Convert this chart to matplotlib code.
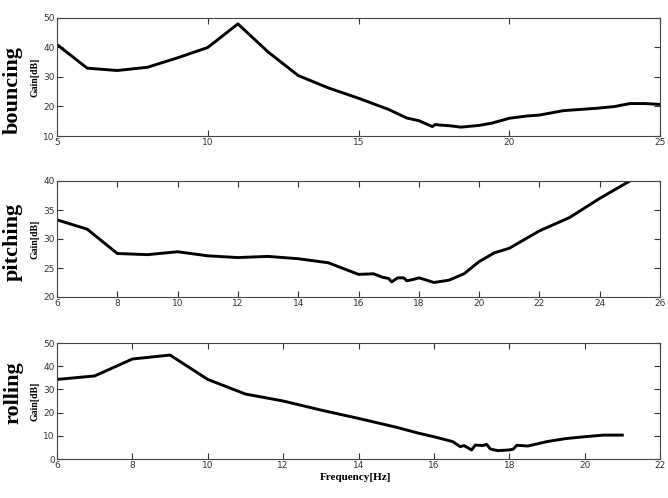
import matplotlib.pyplot as plt

# bouncing
bounce_f = [5, 6, 7, 8, 9, 10, 11, 12, 13, 14, 15, 16, 16.6, 17.0, 17.45, 17.55, 17.7, 18.0, 18.4,
            19.0, 19.4, 20.0, 20.6, 21.0, 21.8, 22.9, 23.5, 24.0, 24.5, 25]
bounce_g = [41, 33, 32.2, 33.3, 36.5, 40, 48, 38.5, 30.5, 26.3, 22.8, 19.0, 16.1, 15.2, 13.2, 13.9, 13.7, 13.5, 13.0,
            13.6, 14.3, 16.0, 16.8, 17.1, 18.6, 19.4, 20.0, 21.0, 21.0, 20.7]

# pitching
pitch_f = [6, 7, 8, 9, 10, 11, 12, 13, 14, 15, 15.5, 16, 16.5, 16.8, 17.0, 17.1, 17.3, 17.5, 17.6, 17.8,
           18.0, 18.2, 18.5, 19.0, 19.5, 20.0, 20.5, 21.0, 22.0, 23.0, 24.0, 25.0]
pitch_g = [33.3, 31.7, 27.5, 27.3, 27.8, 27.1, 26.8, 27.0, 26.6, 25.9, 24.9, 23.9, 24.0, 23.4, 23.2, 22.6, 23.3, 23.3, 22.8, 23.0,
           23.3, 23.0, 22.5, 22.9, 24.0, 26.1, 27.6, 28.4, 31.4, 33.7, 37.0, 40.0]

# rolling
roll_f = [6, 7, 8, 9, 10, 11, 12, 13, 14, 15, 15.6, 16, 16.5, 16.7, 16.8, 17.0, 17.1, 17.3, 17.4, 17.5,
          17.7, 18.0, 18.1, 18.2, 18.5, 19.0, 19.5, 20.0, 20.5, 21.0]
roll_g = [34.3, 35.8, 43.1, 44.8, 34.3, 28.0, 25.0, 21.1, 17.5, 13.7, 11.1, 9.6, 7.5, 5.3, 5.8, 3.9, 6.0, 5.8, 6.3, 4.3,
          3.6, 3.9, 4.2, 5.9, 5.6, 7.5, 8.8, 9.6, 10.3, 10.3]

panels = [
    ("bouncing", bounce_f, bounce_g, (5, 25), [5, 10, 15, 20, 25], (10, 50), [10, 20, 30, 40, 50]),
    ("pitching", pitch_f, pitch_g, (6, 26), list(range(6, 27, 2)), (20, 40), [20, 25, 30, 35, 40]),
    ("rolling", roll_f, roll_g, (6, 22), list(range(6, 23, 2)), (0, 50), [0, 10, 20, 30, 40, 50]),
]

SERIF = "Liberation Serif"

fig = plt.figure(figsize=(6.68, 4.98), dpi=100)
W, H = 668, 498
boxes = [(18, 136), (181, 297), (343, 459)]  # top/bottom in pixels
label_y = [90, 242, 393]
left, right = 57, 660

for (name, f, g, xl, xt, yl, yt), (top, bot), ly in zip(panels, boxes, label_y):
    ax = fig.add_axes([left / W, 1 - bot / H, (right - left) / W, (bot - top) / H])
    ax.plot(f, g, color="black", lw=2.1, solid_joinstyle="round")
    ax.set_xlim(*xl)
    ax.set_ylim(*yl)
    ax.set_xticks(xt)
    ax.set_yticks(yt)
    ax.tick_params(direction="in", top=True, right=True, length=4, width=0.8,
                   labelsize=6.5, pad=1.5, colors="#333333")
    for s in ax.spines.values():
        s.set_linewidth(0.8)
        s.set_color("#444444")
    ax.set_ylabel("Gain[dB]", fontsize=7, fontweight="bold", family=SERIF, labelpad=3)
    fig.text(13 / W, 1 - ly / H, name, rotation=90, ha="center", va="center",
             fontsize=16, fontweight="bold", family=SERIF)

fig.text(356 / W, 1 - 477 / H, "Frequency[Hz]", ha="center", va="center",
         fontsize=8, fontweight="bold", family=SERIF)

fig.savefig("out.png", dpi=100)
